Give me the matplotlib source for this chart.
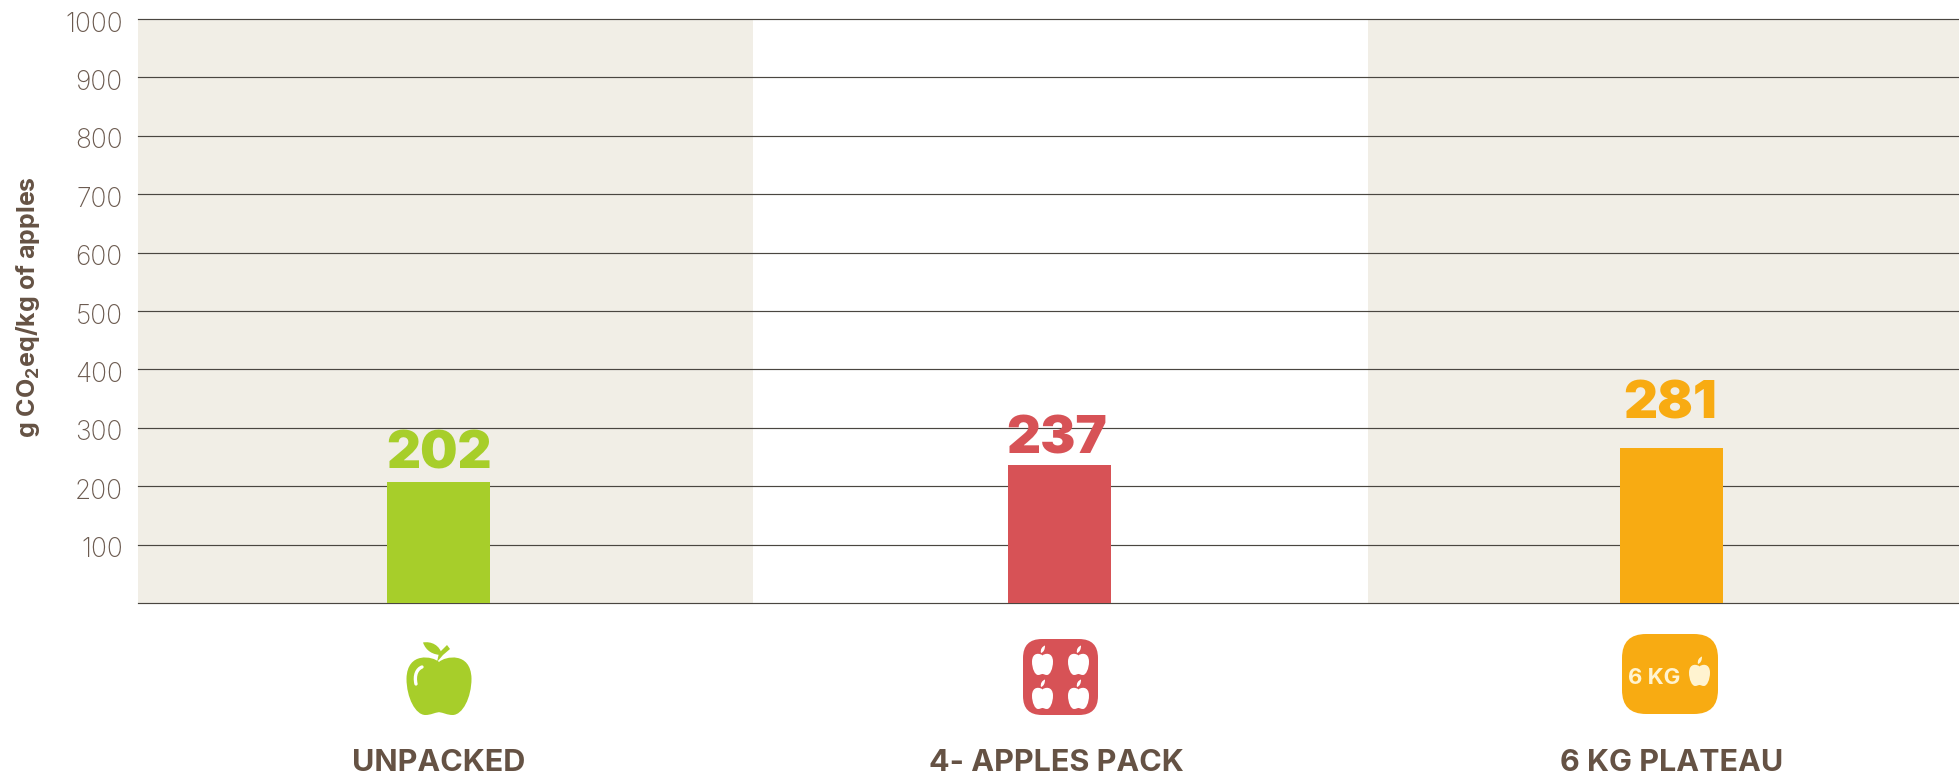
#!/usr/bin/env python3

import matplotlib
matplotlib.use("Agg")
import matplotlib.pyplot as plt
from matplotlib.patches import FancyBboxPatch, PathPatch
from matplotlib.path import Path
from matplotlib.transforms import ScaledTranslation

categories = ["UNPACKED", "4- APPLES PACK", "6 KG PLATEAU"]
bar_heights = [207, 237, 266]
value_labels = ["202", "237", "281"]
y_ticks = [100, 200, 300, 400, 500, 600, 700, 800, 900, 1000]

colors = ["#a7ce2a", "#d75256", "#f8ab12"]
band = "#f1eee6"
brown = "#655244"
tick_brown = "#6c5b50"

W, H = 1959, 773
FONT = "Inter"

plt.rcParams["font.family"] = [FONT, "DejaVu Sans"]
plt.rcParams["mathtext.default"] = "regular"

fig = plt.figure(figsize=(W / 100, H / 100), dpi=100)
ax = fig.add_axes([138 / W, (H - 603) / H, 1821 / W, 584 / H])

# category slots are 615 px wide, the last one runs off the canvas
ax.axvspan(0, 1, color=band, lw=0, zorder=0)
ax.axvspan(2, 3, color=band, lw=0, zorder=0)

x = [0.489, 1.499, 2.494]
ax.bar(x, bar_heights, width=0.1675, color=colors, zorder=3)

for v in [0] + y_ticks:
    ax.axhline(v, color="#4a4640", lw=0.85, zorder=2, clip_on=False)

label_offset = [(0, 19.5), (-2.5, 18), (-1.5, 31)]
for xi, h, lab, c, off in zip(x, bar_heights, value_labels, colors, label_offset):
    ax.annotate(lab, (xi, h), xytext=off, textcoords="offset points",
                ha="center", va="center", fontsize=38, fontweight="black", color=c, zorder=4)

ax.set_xlim(0, 1821 / 615)
ax.set_ylim(0, 1000)
ax.set_yticks(y_ticks, [str(v) for v in y_ticks])
ax.set_xticks(x, categories)
ax.tick_params(axis="y", length=0, pad=11, labelsize=19, labelcolor=tick_brown)
ax.tick_params(axis="x", length=0, pad=105, labelsize=22, labelcolor=brown)
for t, dx in zip(ax.get_xticklabels(), [0, -2.5, 0]):
    t.set_fontweight("bold")
    t.set_transform(t.get_transform() + ScaledTranslation(dx / 72, 0, fig.dpi_scale_trans))
shift = ScaledTranslation(0, -1.8 / 72, fig.dpi_scale_trans)
for t in ax.get_yticklabels():
    t.set_fontweight("light")
    t.set_transform(t.get_transform() + shift)
for s in ax.spines.values():
    s.set_visible(False)

fig.text(28 / W, 1 - 307 / H, "g CO$_2$eq/kg of apples", rotation=90, ha="center", va="center",
         fontsize=18, fontweight="bold", color=brown)

# icons drawn on a full-figure overlay in pixel coordinates
ov = fig.add_axes([0, 0, 1, 1])
ov.set_xlim(0, W)
ov.set_ylim(H, 0)
ov.axis("off")
ov.patch.set_alpha(0)


def apple_body(cx, top, hw, h):
    u = [(0, 0.07), (0.18, -0.03), (0.98, -0.12), (1, 0.36), (1, 0.7), (0.72, 1), (0.42, 1),
         (0.25, 1), (0.14, 0.96), (0, 0.95), (-0.14, 0.96), (-0.25, 1), (-0.42, 1),
         (-0.72, 1), (-1, 0.7), (-1, 0.36), (-0.98, -0.12), (-0.18, -0.03), (0, 0.07)]
    verts = [(cx + a * hw, top + b * h) for a, b in u]
    codes = [Path.MOVETO] + [Path.CURVE4] * (len(verts) - 1)
    return Path(verts, codes)


def small_apple(cx, top, hw, h, c):
    ov.add_patch(PathPatch(apple_body(cx, top, hw, h), fc=c, lw=0))
    leaf = Path([(cx - 1.5, top - 1), (cx - 2.5, top - 5), (cx, top - 7.5), (cx + 2.5, top - 8.5),
                 (cx + 2.5, top - 5), (cx + 1.5, top - 2), (cx - 1.5, top - 1)],
                [Path.MOVETO] + [Path.CURVE4] * 6)
    ov.add_patch(PathPatch(leaf, fc=c, lw=0))


def rounded(x0, y0, x1, y1, r, c):
    ov.add_patch(FancyBboxPatch((x0 + r, y0 + r), x1 - x0 - 2 * r, y1 - y0 - 2 * r,
                                boxstyle=f"round,pad={r},rounding_size={r}", fc=c, lw=0))


# green apple
ov.add_patch(PathPatch(apple_body(439, 658, 32.5, 57), fc=colors[0], lw=0))
leaf = Path([(423, 642.5), (431, 641), (440, 645), (442, 655), (433, 655), (426, 651), (423, 642.5)],
            [Path.MOVETO] + [Path.CURVE4] * 6)
ov.add_patch(PathPatch(leaf, fc=colors[0], lw=0))
ov.add_patch(PathPatch(Path([(437, 662), (439, 653), (447, 645), (450, 649), (443, 655), (441, 662)],
                            [Path.MOVETO] + [Path.LINETO] * 4 + [Path.CLOSEPOLY]),
                       fc=colors[0], lw=0))
ov.add_patch(PathPatch(Path([(416, 684), (414, 675), (417, 669), (422, 667)],
                            [Path.MOVETO, Path.CURVE4, Path.CURVE4, Path.CURVE4]),
                       fc="none", ec="white", lw=2.4, capstyle="round"))

# four apples
rounded(1023, 639, 1098, 715, 19, colors[1])
for cx in [1042.5, 1078.5]:
    for top in [654, 688]:
        small_apple(cx, top, 10.5, 21, "white")

# 6 kg plateau
rounded(1622, 634, 1718, 714, 24, colors[2])
ov.text(1654, 678, "6 KG", ha="center", va="center", fontsize=16, fontweight="bold", color="#fff3d0")
small_apple(1699.5, 665, 10.5, 21, "#fff3d0")

fig.savefig("out.png", dpi=100)
